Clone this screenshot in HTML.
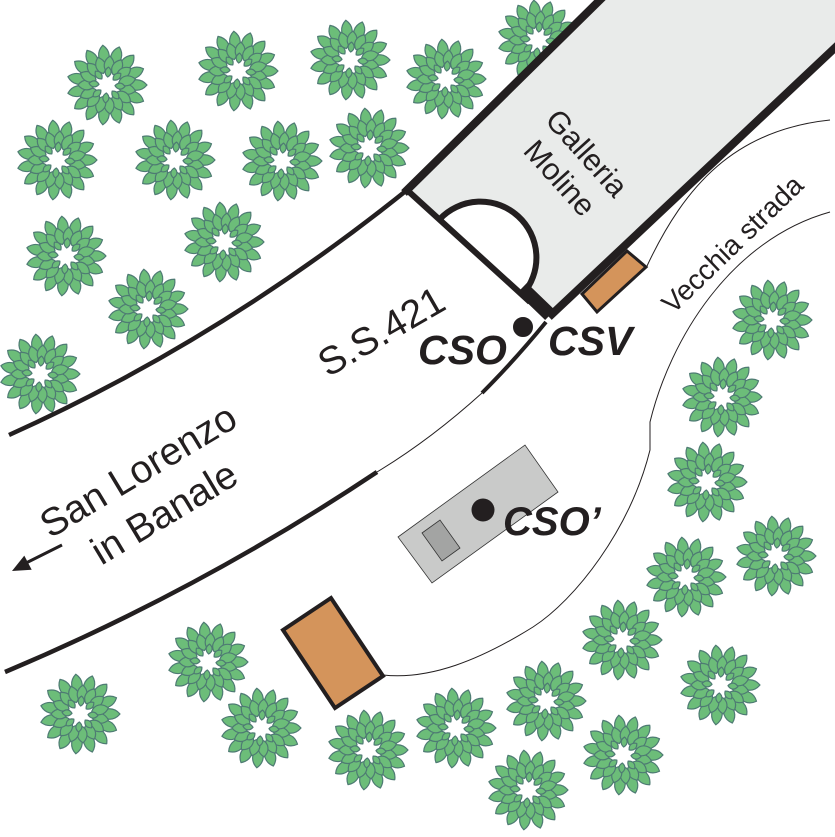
<!DOCTYPE html>
<html>
<head>
<meta charset="utf-8">
<style>
  html, body { margin: 0; padding: 0; background: #fff; }
  svg { display: block; }
  text { font-family: "Liberation Sans", Arial, sans-serif; fill: #231f20; }
</style>
</head>
<body>
<svg width="835" height="837" viewBox="0 0 835 837" xmlns="http://www.w3.org/2000/svg">
  <rect width="835" height="837" fill="#fff"/>
  <defs>
    <path id="la" d="M0,0C5,-7 14,-7 20,0C14,7 5,7 0,0Z"/>
    <path id="lb" d="M0,0C4,-6.5 12,-6.5 17,0C12,6.5 4,6.5 0,0Z"/>
    <path id="lc" d="M0,0C3,-4 7,-4 10,0C7,4 3,4 0,0Z"/>
    <g id="tree">
      <use href="#la" transform="rotate(0) translate(20)"/>
      <use href="#la" transform="rotate(24) translate(20)"/>
      <use href="#la" transform="rotate(48) translate(20)"/>
      <use href="#la" transform="rotate(72) translate(20)"/>
      <use href="#la" transform="rotate(96) translate(20)"/>
      <use href="#la" transform="rotate(120) translate(20)"/>
      <use href="#la" transform="rotate(144) translate(20)"/>
      <use href="#la" transform="rotate(168) translate(20)"/>
      <use href="#la" transform="rotate(192) translate(20)"/>
      <use href="#la" transform="rotate(216) translate(20)"/>
      <use href="#la" transform="rotate(240) translate(20)"/>
      <use href="#la" transform="rotate(264) translate(20)"/>
      <use href="#la" transform="rotate(288) translate(20)"/>
      <use href="#la" transform="rotate(312) translate(20)"/>
      <use href="#la" transform="rotate(336) translate(20)"/>
      <use href="#lb" transform="rotate(12) translate(12)"/>
      <use href="#lb" transform="rotate(36) translate(12)"/>
      <use href="#lb" transform="rotate(60) translate(12)"/>
      <use href="#lb" transform="rotate(84) translate(12)"/>
      <use href="#lb" transform="rotate(108) translate(12)"/>
      <use href="#lb" transform="rotate(132) translate(12)"/>
      <use href="#lb" transform="rotate(156) translate(12)"/>
      <use href="#lb" transform="rotate(180) translate(12)"/>
      <use href="#lb" transform="rotate(204) translate(12)"/>
      <use href="#lb" transform="rotate(228) translate(12)"/>
      <use href="#lb" transform="rotate(252) translate(12)"/>
      <use href="#lb" transform="rotate(276) translate(12)"/>
      <use href="#lb" transform="rotate(300) translate(12)"/>
      <use href="#lb" transform="rotate(324) translate(12)"/>
      <use href="#lb" transform="rotate(348) translate(12)"/>
      <use href="#lc" transform="rotate(5) translate(8)"/>
      <use href="#lc" transform="rotate(50) translate(8)"/>
      <use href="#lc" transform="rotate(95) translate(8)"/>
      <use href="#lc" transform="rotate(140) translate(8)"/>
      <use href="#lc" transform="rotate(185) translate(8)"/>
      <use href="#lc" transform="rotate(230) translate(8)"/>
      <use href="#lc" transform="rotate(275) translate(8)"/>
      <use href="#lc" transform="rotate(320) translate(8)"/>
    </g>
  </defs>

  <!-- Trees -->
  <g fill="#6cbd79" stroke="#4e7b73" stroke-width="1.2" stroke-linejoin="round">
    <use href="#tree" transform="translate(107,85)"/>
    <use href="#tree" transform="translate(238,71)"/>
    <use href="#tree" transform="translate(350,60)"/>
    <use href="#tree" transform="translate(446,79)"/>
    <use href="#tree" transform="translate(538,40)"/>
    <use href="#tree" transform="translate(57,160)"/>
    <use href="#tree" transform="translate(175,160)"/>
    <use href="#tree" transform="translate(282,161)"/>
    <use href="#tree" transform="translate(369,148)"/>
    <use href="#tree" transform="translate(66,256)"/>
    <use href="#tree" transform="translate(224,242)"/>
    <use href="#tree" transform="translate(148,309)"/>
    <use href="#tree" transform="translate(40,374)"/>
    <use href="#tree" transform="translate(772,320)"/>
    <use href="#tree" transform="translate(722,397)"/>
    <use href="#tree" transform="translate(707,482)"/>
    <use href="#tree" transform="translate(776,556)"/>
    <use href="#tree" transform="translate(686,577)"/>
    <use href="#tree" transform="translate(622,640)"/>
    <use href="#tree" transform="translate(720,685)"/>
    <use href="#tree" transform="translate(208,662)"/>
    <use href="#tree" transform="translate(80,714)"/>
    <use href="#tree" transform="translate(261,728)"/>
    <use href="#tree" transform="translate(368,750)"/>
    <use href="#tree" transform="translate(456,728)"/>
    <use href="#tree" transform="translate(546,701)"/>
    <use href="#tree" transform="translate(623,755)"/>
    <use href="#tree" transform="translate(528,790)"/>
  </g>

  <!-- Tunnel -->
  <polygon points="407,190 600,0 835,0 835,48 552,314" fill="#e9ebea"/>
  <path d="M439.6,219.3 A56,56 0 0 1 522.4,294.7" fill="#fff" stroke="#231f20" stroke-width="6"/>
  <g stroke="#231f20" fill="none">
    <line x1="407" y1="190" x2="530" y2="302" stroke-width="6"/>
    <line x1="522" y1="288" x2="550" y2="315" stroke-width="14"/>
    <line x1="404" y1="193" x2="604" y2="-4" stroke-width="8"/>
    <line x1="839" y1="44" x2="549" y2="317" stroke-width="8"/>

    <!-- Road edges -->
    <path d="M9,435 Q220,340 407,190" stroke-width="4.5"/>
    <path d="M546,322 Q515,360 482,393" stroke-width="4"/>
    <path d="M482,393 Q430,440 377,472" stroke-width="1"/>
    <path d="M377,472 Q200,590 5,672" stroke-width="4.5"/>

    <!-- Old road -->
    <path d="M647,266 C685,185 735,130 830,120" stroke-width="1"/>
    <path d="M383,675 C430,680 480,660 533,627 C575,600 630,530 650,450 L650,422 C670,340 730,240 830,212" stroke-width="1"/>

    <!-- Arrow line -->
    <line x1="62" y1="545" x2="26" y2="563" stroke-width="3"/>
  </g>
  <polygon points="12,571 31.7,569.8 24.3,555.6" fill="#231f20"/>

  <!-- Buildings -->
  <polygon points="582,294 627,251 646,267 597,312" fill="#d4945b" stroke="#231f20" stroke-width="3"/>
  <polygon points="283,630 331,598 383,676 335,708" fill="#d4945b" stroke="#231f20" stroke-width="4"/>
  <polygon points="398,537 525,445 558,492 432,583" fill="#c9cac9" stroke="#333" stroke-width="0.8"/>
  <polygon points="422,533 440,520 460,548 442,561" fill="#a3a4a3" stroke="#333" stroke-width="0.8"/>

  <!-- Dots -->
  <circle cx="523" cy="327" r="11" fill="#231f20" stroke="#fff" stroke-width="2"/>
  <circle cx="483" cy="510" r="11.5" fill="#231f20"/>

  <!-- Labels -->
  <text transform="translate(579,160) rotate(48)" text-anchor="middle" font-size="30.5">Galleria</text>
  <text transform="translate(552,185) rotate(48)" text-anchor="middle" font-size="30.5">Moline</text>
  <text transform="translate(739,251) rotate(-44)" text-anchor="middle" font-size="28">Vecchia strada</text>
  <text transform="translate(388,343) rotate(-30)" text-anchor="middle" font-size="39">S.S.421</text>
  <text transform="translate(145,482) rotate(-31)" text-anchor="middle" font-size="39">San Lorenzo</text>
  <text transform="translate(171,524) rotate(-31)" text-anchor="middle" font-size="39">in Banale</text>

  <text x="418" y="364" font-size="41" font-weight="bold" font-style="italic">CSO</text>
  <text x="548" y="355" font-size="41" font-weight="bold" font-style="italic">CSV</text>
  <text x="503" y="535" font-size="40" font-weight="bold" font-style="italic">CSO’</text>
</svg>
</body>
</html>
